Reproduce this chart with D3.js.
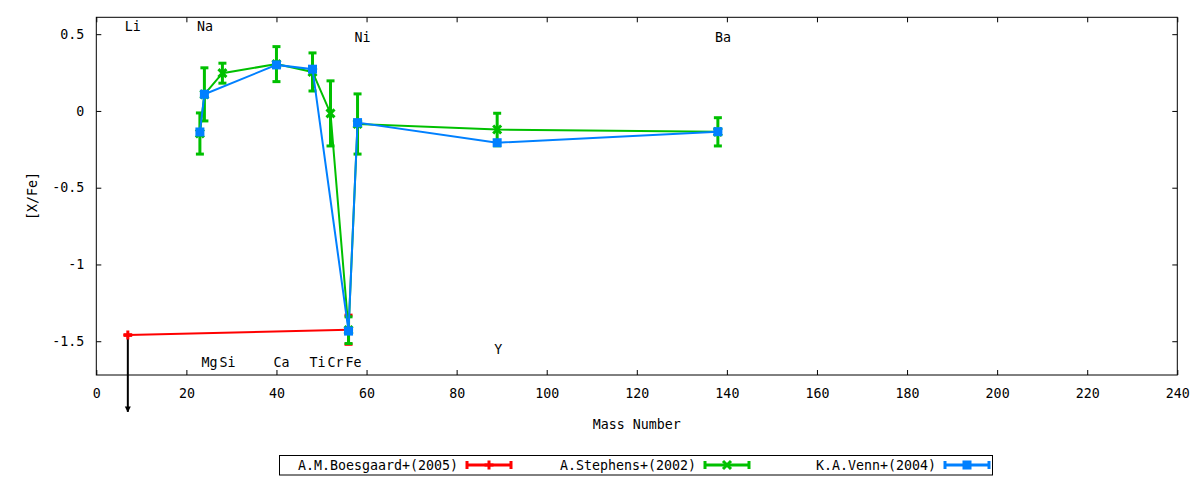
<!DOCTYPE html>
<html>
<head>
<meta charset="utf-8">
<script src="https://cdn.jsdelivr.net/npm/d3@7"></script>
<style>
  body { margin: 0; background: #fff; }
  svg text { font-family: "DejaVu Sans Mono", monospace; font-size: 13.3px; fill: #000; }
</style>
</head>
<body>
<div id="app"></div>
<script>
// Boesgaard (red): Li upper limit and Fe
var boesMass = [7, 56];
var boesVal = [-1.46, -1.425];
var boesErr = [0, 0.095];

// Stephens (green)
var stephMass = [23, 24, 28, 40, 48, 52, 56, 58, 89, 138];
var stephVal = [-0.147, 0.108, 0.246, 0.305, 0.254, -0.016, -1.428, -0.085, -0.121, -0.136];
var stephErr = [0.134, 0.173, 0.065, 0.114, 0.124, 0.212, 0.087, 0.196, 0.106, 0.092];

// Venn (blue)
var vennMass = [23, 24, 40, 48, 56, 58, 89, 138];
var vennVal = [-0.137, 0.109, 0.30, 0.272, -1.434, -0.076, -0.207, -0.135];

// element labels
var elemNames = ["Li", "Na", "Mg", "Si", "Ca", "Ti", "Cr", "Fe", "Ni", "Y", "Ba"];
var elemMass = [7, 23, 24, 28, 40, 48, 52, 56, 58, 89, 138];
var elemY = [0.55, 0.55, -1.64, -1.64, -1.64, -1.64, -1.64, -1.64, 0.48, -1.55, 0.48];

var xTicks = [0, 20, 40, 60, 80, 100, 120, 140, 160, 180, 200, 220, 240];
var yTicks = [0.5, 0, -0.5, -1, -1.5];
var liLimitEnd = -1.96; // arrow tip for the Li upper limit

var seriesNames = ["A.M.Boesgaard+(2005)", "A.Stephens+(2002)", "K.A.Venn+(2004)"];
var RED = "#ff0000", GREEN = "#00c000", BLUE = "#0080ff";

var W = 1200, H = 480;
// plot box (don't call these top/left: window.top is read-only)
var plotL = 96.3, plotR = 1177.3, plotT = 17.3, plotB = 375;

var svg = d3.select("#app").append("svg").attr("width", W).attr("height", H);

var x = d3.scaleLinear().domain([0, 240]).range([plotL, plotR]);
var y = d3.scaleLinear().domain([-1.72, 0.61]).range([plotB, plotT]);

// axes, gnuplot style: ticks inward, mirrored on the other side
function fmt(d) { return String(d); }
function cleanText(g) {
  g.select(".domain").remove();
  g.selectAll("text").attr("font-size", null).attr("font-family", null).attr("fill", null);
}
svg.append("g").attr("transform", "translate(0," + plotB + ")")
  .call(d3.axisBottom(x).tickValues(xTicks).tickSizeInner(-5).tickSizeOuter(0).tickPadding(14).tickFormat(fmt))
  .call(cleanText);
svg.append("g").attr("transform", "translate(0," + plotT + ")")
  .call(d3.axisTop(x).tickValues(xTicks).tickSizeInner(-5).tickSizeOuter(0).tickFormat(""))
  .call(cleanText);
svg.append("g").attr("transform", "translate(" + plotL + ",0)")
  .call(d3.axisLeft(y).tickValues(yTicks).tickSizeInner(-5).tickSizeOuter(0).tickPadding(12).tickFormat(fmt))
  .call(cleanText);
svg.append("g").attr("transform", "translate(" + plotR + ",0)")
  .call(d3.axisRight(y).tickValues(yTicks).tickSizeInner(-5).tickSizeOuter(0).tickFormat(""))
  .call(cleanText);
svg.selectAll(".tick line").attr("stroke", "#000");

svg.append("rect").attr("x", plotL).attr("y", plotT).attr("width", plotR - plotL).attr("height", plotB - plotT)
  .attr("fill", "none").attr("stroke", "#000").attr("stroke-width", 1);

// axis titles
svg.append("text").attr("x", (plotL + plotR) / 2).attr("y", 429).attr("text-anchor", "middle").text("Mass Number");
svg.append("text").attr("transform", "translate(37,196) rotate(-90)").attr("text-anchor", "middle").text("[X/Fe]");

// element labels
svg.selectAll(".elem").data(elemNames).enter().append("text")
  .attr("class", "elem")
  .attr("x", function(d, i) { return x(elemMass[i]) - 3; })
  .attr("y", function(d, i) { return y(elemY[i]); })
  .attr("dy", "0.35em")
  .text(function(d) { return d; });

function zip(m, v, e) {
  return m.map(function(d, i) { return { m: d, v: v[i], e: e ? e[i] : null }; });
}
var line = d3.line().x(function(d) { return x(d.m); }).y(function(d) { return y(d.v); });

function drawErr(g, pts, color) {
  pts.forEach(function(p) {
    if (p.e === null) return;
    var cx = x(p.m), y0 = y(p.v - p.e), y1 = y(p.v + p.e);
    g.append("line").attr("x1", cx).attr("x2", cx).attr("y1", y0).attr("y2", y1)
      .attr("stroke", color).attr("stroke-width", 3);
    [y0, y1].forEach(function(yy) {
      g.append("line").attr("x1", cx - 4).attr("x2", cx + 4).attr("y1", yy).attr("y2", yy)
        .attr("stroke", color).attr("stroke-width", 3);
    });
  });
}

function marker(g, cx, cy, kind, color) {
  if (kind === "plus") {
    g.append("path").attr("d", "M" + (cx - 4.5) + "," + cy + "H" + (cx + 4.5) + "M" + cx + "," + (cy - 4.5) + "V" + (cy + 4.5))
      .attr("stroke", color).attr("stroke-width", 3);
  } else if (kind === "cross") {
    g.append("path").attr("d", "M" + (cx - 4) + "," + (cy - 4) + "L" + (cx + 4) + "," + (cy + 4) + "M" + (cx - 4) + "," + (cy + 4) + "L" + (cx + 4) + "," + (cy - 4))
      .attr("stroke", color).attr("stroke-width", 3);
  } else {
    g.append("rect").attr("x", cx - 4.5).attr("y", cy - 4.5).attr("width", 9).attr("height", 9).attr("fill", color);
  }
}

var boes = zip(boesMass, boesVal, boesErr);
var steph = zip(stephMass, stephVal, stephErr);
var venn = zip(vennMass, vennVal, null);

// Li upper limit arrow
var defs = svg.append("defs");
defs.append("marker").attr("id", "ah").attr("viewBox", "0 0 10 10").attr("refX", 9).attr("refY", 5)
  .attr("markerWidth", 3).attr("markerHeight", 4).attr("orient", "auto").attr("markerUnits", "strokeWidth")
  .append("path").attr("d", "M0,0L10,5L0,10z").attr("fill", "#000");
svg.append("line").attr("x1", x(boesMass[0])).attr("x2", x(boesMass[0]))
  .attr("y1", y(boesVal[0])).attr("y2", y(liLimitEnd))
  .attr("stroke", "#000").attr("stroke-width", 2).attr("marker-end", "url(#ah)");

var series = [
  { pts: boes, color: RED, kind: "plus" },
  { pts: steph, color: GREEN, kind: "cross" },
  { pts: venn, color: BLUE, kind: "square" }
];
series.forEach(function(s) {
  var g = svg.append("g");
  g.append("path").datum(s.pts).attr("d", line).attr("fill", "none").attr("stroke", s.color).attr("stroke-width", 2);
  drawErr(g, s.pts, s.color);
  s.pts.forEach(function(p) { marker(g, x(p.m), y(p.v), s.kind, s.color); });
});

// legend
svg.append("rect").attr("x", 279.5).attr("y", 455.5).attr("width", 713).attr("height", 19.5)
  .attr("fill", "#fff").attr("stroke", "#000").attr("stroke-width", 1);
var legTextEnd = [458, 696, 936];
legTextEnd.forEach(function(tx, i) {
  var s = series[i], cy = 465;
  svg.append("text").attr("x", tx).attr("y", cy).attr("dy", "0.35em").attr("text-anchor", "end").text(seriesNames[i]);
  var x0 = tx + 9, x1 = tx + 53;
  var g = svg.append("g");
  g.append("line").attr("x1", x0).attr("x2", x1).attr("y1", cy).attr("y2", cy).attr("stroke", s.color).attr("stroke-width", 3);
  [x0, x1].forEach(function(xx) {
    g.append("line").attr("x1", xx).attr("x2", xx).attr("y1", cy - 4).attr("y2", cy + 4).attr("stroke", s.color).attr("stroke-width", 3);
  });
  marker(g, (x0 + x1) / 2, cy, s.kind, s.color);
});
</script>
</body>
</html>
